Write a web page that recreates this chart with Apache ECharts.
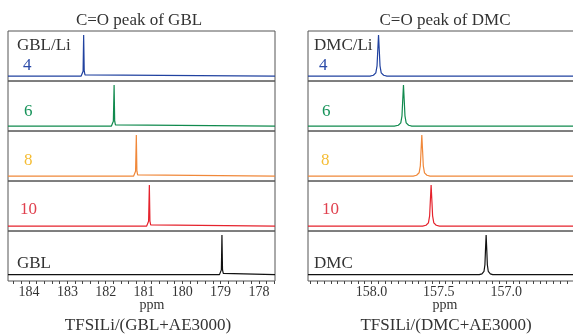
<!DOCTYPE html>
<html><head><meta charset="utf-8">
<script src="https://cdn.jsdelivr.net/npm/echarts@6/dist/echarts.min.js"></script>
<style>html,body{margin:0;padding:0;background:#fff}#c{width:573px;height:334px}</style>
</head><body><div id="c"></div>
<script>
// ---- data (ppm, normalized intensity) ----
const gbl4  = [[184.55,0],[182.64,0],[182.61,0.03],[182.59,0.12],[182.575,1],[182.56,0.12],[182.54,0.03],[182.51,0],[177.58,0]];
const gbl6  = [[184.55,0],[181.85,0],[181.82,0.03],[181.80,0.12],[181.78,1],[181.765,0.12],[181.745,0.03],[181.71,0],[177.58,0]];
const gbl8  = [[184.55,0],[181.27,0],[181.24,0.03],[181.22,0.12],[181.20,1],[181.185,0.12],[181.165,0.03],[181.13,0],[177.58,0]];
const gbl10 = [[184.55,0],[180.93,0],[180.90,0.03],[180.88,0.12],[180.86,1],[180.845,0.12],[180.825,0.03],[180.79,0],[177.58,0]];
const gbl0  = [[184.55,0],[179.03,0],[179.00,0.03],[178.98,0.12],[178.965,1],[178.95,0.12],[178.93,0.03],[178.90,0],[177.58,0]];

const dmc4  = [[158.47,0],[158.01,0],[157.985,0.02],[157.967,0.08],[157.958,0.25],[157.953,0.6],[157.947,1],[157.941,0.6],[157.936,0.25],[157.927,0.08],[157.909,0.02],[157.885,0],[156.49,0]];
const dmc6  = [[158.47,0],[157.83,0],[157.80,0.02],[157.782,0.08],[157.773,0.25],[157.768,0.6],[157.762,1],[157.756,0.6],[157.751,0.25],[157.742,0.08],[157.724,0.02],[157.70,0],[156.49,0]];
const dmc8  = [[158.47,0],[157.69,0],[157.665,0.02],[157.646,0.08],[157.637,0.25],[157.632,0.6],[157.626,1],[157.620,0.6],[157.615,0.25],[157.606,0.08],[157.588,0.02],[157.565,0],[156.49,0]];
const dmc10 = [[158.47,0],[157.62,0],[157.595,0.02],[157.577,0.08],[157.568,0.25],[157.563,0.6],[157.557,1],[157.551,0.6],[157.546,0.25],[157.537,0.08],[157.519,0.02],[157.495,0],[156.49,0]];
const dmc0  = [[158.47,0],[157.20,0],[157.18,0.02],[157.165,0.08],[157.158,0.25],[157.154,0.6],[157.149,1],[157.144,0.6],[157.140,0.25],[157.133,0.08],[157.118,0.02],[157.10,0],[156.49,0]];

const ratioLabels = ['4','6','8','10'];
const gblTicks = [184,183,182,181,180,179,178];
const dmcTicks = [158.0,157.5,157.0];
const gblRange = [177.58,184.55];
const dmcRange = [156.49,158.47];

// ---- layout / style ----
const lineColors = ['#2142a0','#118a4e','#f0883a','#e5232d','#111111'];
const labelColors = ['#2a4aa8','#17935a','#f5bd35','#e0404e','#333333'];
const tops = [31,81,131,181,231];
const leftX = 8, rightX = 308, W = 267, H = 50;

const gblSets = [gbl4,gbl6,gbl8,gbl10,gbl0];
const dmcSets = [dmc4,dmc6,dmc8,dmc10,dmc0];

function minorList(lo, hi, step){
  const out=[]; const n=Math.round((hi-lo)/step);
  for(let i=0;i<=n;i++){ out.push(+(lo+i*step).toFixed(4)); }
  return out;
}
const gblMinor = minorList(177.6, 184.4, 0.2);
const dmcMinor = minorList(156.5, 158.45, 0.05);

const grid=[], xAxis=[], yAxis=[], series=[];
function addCol(sets, x0, range, ticks, minor, fmt){
  sets.forEach((d,i)=>{
    const gi = grid.length;
    const last = i===sets.length-1;
    grid.push({left:x0, top:tops[i], width:W, height:H, show:true, borderColor:'#555', borderWidth:1, backgroundColor:'transparent', outerBoundsMode:'none'});
    xAxis.push({type:'value', gridIndex:gi, inverse:true, min:range[0], max:range[1],
      show:last, position:'bottom',
      axisLine:{show:false, onZero:false},
      axisTick:{show:last, inside:false, length:3, lineStyle:{color:'#444'}, customValues:minor},
      axisLabel:{show:last, customValues:ticks, formatter:fmt, color:'#333', fontFamily:'Liberation Serif', fontSize:14, margin:4},
      splitLine:{show:false}});
    yAxis.push({type:'value', gridIndex:gi, show:false, min:last?-0.16:-0.12, max:1.1,
      axisLine:{onZero:false}});
    series.push({type:'line', xAxisIndex:gi, yAxisIndex:gi, data:d, showSymbol:false, symbol:'none',
      smooth:false,
      lineStyle:{color:lineColors[i], width:1.2}, animation:false, silent:true});
  });
}
addCol(gblSets, leftX, gblRange, gblTicks, gblMinor, v=>String(Math.round(v)));
addCol(dmcSets, rightX, dmcRange, dmcTicks, dmcMinor, v=>v.toFixed(1));

const F='Liberation Serif';
function txt(text,x,y,fill,size,align){
  return {type:'text', x:x, y:y, style:{text:text, fill:fill, font:size+'px "'+F+'"', textAlign:align||'left', textVerticalAlign:'middle'}};
}
const graphic=[
  txt('C=O peak of GBL',139,21,'#333',17,'center'),
  txt('C=O peak of DMC',445,21,'#333',17,'center'),
  txt('GBL/Li',17,46,'#333',17),
  txt('DMC/Li',314,46,'#333',17),
  txt('GBL',17,264,'#333',17),
  txt('DMC',314,264,'#333',17),
  txt('ppm',152,305,'#333',14,'center'),
  txt('ppm',445,305,'#333',14,'center'),
  txt('TFSILi/(GBL+AE3000)',148,326,'#333',17,'center'),
  txt('TFSILi/(DMC+AE3000)',446,326,'#333',17,'center')
];
const numY=[66,112,161,210];
const numXL=[23,24,24,20], numXR=[319,322,321,322];
ratioLabels.forEach((t,i)=>{
  graphic.push(txt(t,numXL[i],numY[i],labelColors[i],17));
  graphic.push(txt(t,numXR[i],numY[i],labelColors[i],17));
});

const chart=echarts.init(document.getElementById('c'),null,{renderer:'canvas'});
chart.setOption({animation:false, grid, xAxis, yAxis, series, graphic});
</script></body></html>
